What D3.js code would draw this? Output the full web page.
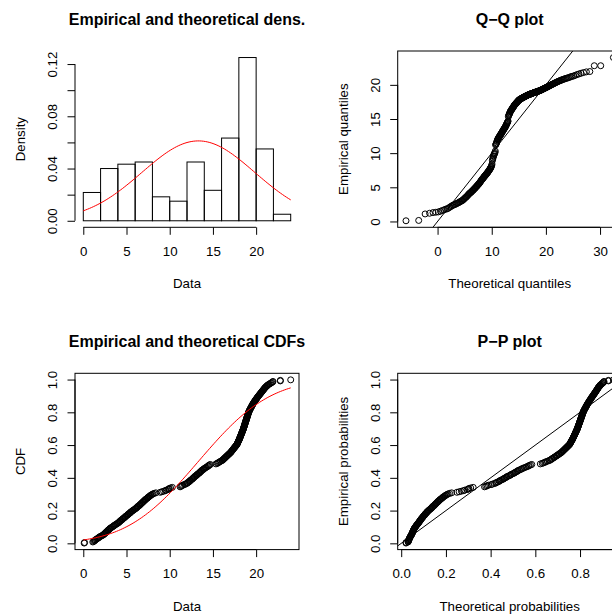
<!DOCTYPE html>
<html>
<head>
<meta charset="utf-8">
<style>
  body { margin: 0; background: #fff; }
  svg { display: block; font-family: "Liberation Sans", Arial, Helvetica, sans-serif; }
</style>
</head>
<body>
<div id="chart"></div>
<script src="https://cdnjs.cloudflare.com/ajax/libs/d3/7.8.5/d3.min.js"></script>
<script>
// observations, grouped by histogram class (a, b]
const obs00to02 = [0.1, 0.15, 1.1, 1.2, 1.3, 1.35, 1.4, 1.5, 1.6, 1.7, 1.8, 1.85, 1.95];
const obs02to04 = [2.1, 2.2, 2.3, 2.4, 2.45, 2.5, 2.6, 2.65, 2.7, 2.8, 2.85, 2.9, 3.0, 3.05, 3.1, 3.2,
  3.3, 3.4, 3.5, 3.55, 3.65, 3.75, 3.85, 3.95];
const obs04to06 = [4.05, 4.1, 4.2, 4.25, 4.3, 4.4, 4.5, 4.55, 4.6, 4.7, 4.8, 4.85, 4.9, 5.0, 5.1, 5.15,
  5.2, 5.3, 5.4, 5.45, 5.5, 5.6, 5.7, 5.75, 5.85, 5.95];
const obs06to08 = [6.05, 6.1, 6.2, 6.25, 6.3, 6.4, 6.5, 6.55, 6.6, 6.7, 6.75, 6.8, 6.9, 6.95, 7.0, 7.1,
  7.15, 7.2, 7.3, 7.4, 7.45, 7.5, 7.6, 7.7, 7.75, 7.85, 7.95];
const obs08to10 = [8.05, 8.2, 8.4, 8.9, 9.1, 9.3, 9.5, 9.6, 9.8, 9.9, 9.95];
const obs10to12 = [10.1, 10.3, 11.2, 11.3, 11.4, 11.5, 11.7, 11.8, 11.95];
const obs12to14 = [12.05, 12.1, 12.2, 12.3, 12.35, 12.4, 12.5, 12.6, 12.65, 12.7, 12.8, 12.85, 12.9, 13.0,
  13.1, 13.15, 13.2, 13.3, 13.4, 13.45, 13.5, 13.6, 13.65, 13.7, 13.8, 13.9, 13.95];
const obs14to16 = [14.05, 14.15, 14.25, 14.35, 14.45, 14.5, 14.6, 14.7, 15.35, 15.5, 15.6, 15.7, 15.8, 15.9];
const obs16to18 = [16.05, 16.1, 16.2, 16.25, 16.3, 16.4, 16.45, 16.5, 16.6, 16.65, 16.7, 16.8, 16.85, 16.9,
  17.0, 17.05, 17.1, 17.15, 17.2, 17.25, 17.3, 17.35, 17.4, 17.45, 17.5, 17.55, 17.6, 17.65, 17.7, 17.75,
  17.8, 17.82, 17.85, 17.88, 17.9, 17.93, 17.96, 17.99];
const obs18to20 = [18.03, 18.05, 18.08, 18.1, 18.12, 18.15, 18.18, 18.2, 18.22, 18.25,
  18.28, 18.3, 18.32, 18.35, 18.37, 18.4, 18.42, 18.45, 18.47, 18.5,
  18.52, 18.54, 18.56, 18.58, 18.6, 18.62, 18.64, 18.66, 18.68, 18.7,
  18.72, 18.74, 18.76, 18.78, 18.8, 18.82, 18.84, 18.86, 18.88, 18.9,
  18.92, 18.94, 18.96, 18.98, 19.0, 19.02, 19.04, 19.06, 19.08, 19.1,
  19.12, 19.15, 19.18, 19.2, 19.23, 19.26, 19.3, 19.33, 19.36, 19.4,
  19.43, 19.46, 19.5, 19.53, 19.57, 19.6, 19.64, 19.68, 19.72, 19.76,
  19.8, 19.84, 19.88, 19.93, 19.97];
const obs20to22 = [20.03, 20.07, 20.1, 20.15, 20.2, 20.25, 20.3, 20.35, 20.4, 20.45,
  20.5, 20.55, 20.6, 20.65, 20.7, 20.75, 20.8, 20.85, 20.9, 20.95,
  21.0, 21.05, 21.1, 21.2, 21.25, 21.3, 21.4, 21.5, 21.6, 21.7, 21.8, 21.9, 21.95];
const obs22to24 = [22.8, 22.8, 24.0];

const breaks = [0, 2, 4, 6, 8, 10, 12, 14, 16, 18, 20, 22, 24];

// tick marks and labels
const dataTicks = [0, 5, 10, 15, 20];
const densTicks = [0, 0.02, 0.04, 0.06, 0.08, 0.10, 0.12];
const densTickLabels = ["0.00", "", "0.04", "", "0.08", "", "0.12"];
const qqXTicks = [0, 10, 20, 30];
const qqYTicks = [0, 5, 10, 15, 20];
const probTicks = [0, 0.2, 0.4, 0.6, 0.8, 1.0];
const probTickLabels = ["0.0", "0.2", "0.4", "0.6", "0.8", "1.0"];
// last label of the P-P x axis falls outside the cropped picture
const ppXTickLabels = ["0.0", "0.2", "0.4", "0.6", "0.8", ""];

const data = [].concat(obs00to02, obs02to04, obs04to06, obs06to08, obs08to10, obs10to12,
  obs12to14, obs14to16, obs16to18, obs18to20, obs20to22, obs22to24);

// ---- normal helpers ----
function qnorm(p) {
  const a = [-3.969683028665376e+01, 2.209460984245205e+02, -2.759285104469687e+02, 1.383577518672690e+02, -3.066479806614716e+01, 2.506628277459239e+00];
  const b = [-5.447609879822406e+01, 1.615858368580409e+02, -1.556989798598866e+02, 6.680131188771972e+01, -1.328068155288572e+01];
  const c = [-7.784894002430293e-03, -3.223964580411365e-01, -2.400758277161838e+00, -2.549732539343734e+00, 4.374664141464968e+00, 2.938163982698783e+00];
  const d = [7.784695709041462e-03, 3.224671290700398e-01, 2.445134137142996e+00, 3.754408661907416e+00];
  const pl = 0.02425;
  let q, r;
  if (p < pl) {
    q = Math.sqrt(-2 * Math.log(p));
    return (((((c[0]*q+c[1])*q+c[2])*q+c[3])*q+c[4])*q+c[5]) / ((((d[0]*q+d[1])*q+d[2])*q+d[3])*q+1);
  }
  if (p > 1 - pl) {
    q = Math.sqrt(-2 * Math.log(1 - p));
    return -(((((c[0]*q+c[1])*q+c[2])*q+c[3])*q+c[4])*q+c[5]) / ((((d[0]*q+d[1])*q+d[2])*q+d[3])*q+1);
  }
  q = p - 0.5; r = q * q;
  return (((((a[0]*r+a[1])*r+a[2])*r+a[3])*r+a[4])*r+a[5])*q / (((((b[0]*r+b[1])*r+b[2])*r+b[3])*r+b[4])*r+1);
}
function erf(x) {
  const s = x < 0 ? -1 : 1; x = Math.abs(x);
  const t = 1 / (1 + 0.3275911 * x);
  const y = 1 - (((((1.061405429*t - 1.453152027)*t) + 1.421413741)*t - 0.284496736)*t + 0.254829592)*t*Math.exp(-x*x);
  return s * y;
}
const pnorm = (x, m, s) => 0.5 * (1 + erf((x - m) / (s * Math.SQRT2)));
const dnorm = (x, m, s) => Math.exp(-0.5 * ((x - m) / s) ** 2) / (s * Math.sqrt(2 * Math.PI));

// ---- fit (MLE) ----
const n = data.length;
const s = data.slice().sort(d3.ascending);
const mu = d3.mean(s);
const sigma = Math.sqrt(d3.sum(s, v => (v - mu) ** 2) / n);
const obsp = s.map((v, i) => (i + 0.5) / n);          // ppoints
const theoq = obsp.map(p => mu + sigma * qnorm(p));
const theop = s.map(v => pnorm(v, mu, sigma));

// histogram, right-closed classes like R
const bins = breaks.slice(1).map((b1, i) => {
  const b0 = breaks[i];
  const cnt = s.filter(v => (v > b0 || (i === 0 && v >= b0)) && v <= b1).length;
  return {x0: b0, x1: b1, density: cnt / (n * (b1 - b0))};
});
const xhistmin = breaks[0], xhistmax = breaks[breaks.length - 1];
const sfin = d3.range(101).map(i => xhistmin + i * (xhistmax - xhistmin) / 100);

// ---- layout ----
const W = 612, H = 615;
const figW = 322.7, figH = 322.3;
const plotW = 224, plotH = 176.3;
const fs = 13.3;

const svg = d3.select('#chart').append('svg').attr('width', W).attr('height', H);

function rRange(ext) { const d = (ext[1] - ext[0]) * 0.04; return [ext[0] - d, ext[1] + d]; }

function makePanel(col, row, id) {
  const x0 = col * figW + 75, y0 = row * figH + 51;
  const p = {x0, y0, x1: x0 + plotW, y1: y0 + plotH, g: svg.append('g')};
  svg.append('clipPath').attr('id', id).append('rect')
    .attr('x', x0).attr('y', y0).attr('width', plotW).attr('height', plotH);
  p.clip = `url(#${id})`;
  return p;
}

function axes(p, sx, sy, xt, xl, yt, yl) {
  const bx = p.g.append('g').attr('transform', `translate(0,${p.y1})`)
    .call(d3.axisBottom(sx).tickValues(xt).tickFormat((d, i) => xl[i]).tickSize(7.5).tickSizeOuter(0));
  bx.select('.domain').remove();
  bx.append('line').attr('x1', sx(xt[0])).attr('x2', sx(xt[xt.length - 1])).attr('stroke', '#000');
  bx.selectAll('text').attr('y', 28.7).attr('dy', null);

  const by = p.g.append('g').attr('transform', `translate(${p.x0},0)`)
    .call(d3.axisLeft(sy).tickValues(yt).tickFormat((d, i) => yl[i]).tickSize(7.5).tickSizeOuter(0));
  by.select('.domain').remove();
  by.append('line').attr('y1', sy(yt[0])).attr('y2', sy(yt[yt.length - 1])).attr('stroke', '#000');
  by.selectAll('text').attr('x', null).attr('dy', null)
    .attr('text-anchor', 'middle').attr('transform', 'translate(-17.7,0) rotate(-90)');

  [bx, by].forEach(a => {
    a.attr('font-size', fs).attr('font-family', null);
    a.selectAll('text').attr('fill', '#000');
    a.selectAll('line').attr('stroke', '#000');
  });
}

function labels(p, title, xlab, ylab) {
  const cx = (p.x0 + p.x1) / 2, cy = (p.y0 + p.y1) / 2;
  p.g.append('text').attr('x', cx).attr('y', p.y0 - 26).attr('text-anchor', 'middle')
    .attr('font-size', 16).attr('font-weight', 'bold').text(title);
  p.g.append('text').attr('x', cx).attr('y', p.y1 + 61).attr('text-anchor', 'middle')
    .attr('font-size', fs).text(xlab);
  p.g.append('text').attr('transform', `translate(${p.x0 - 50},${cy}) rotate(-90)`)
    .attr('text-anchor', 'middle').attr('font-size', fs).text(ylab);
}

function box(p) {
  p.g.append('rect').attr('x', p.x0).attr('y', p.y0).attr('width', plotW).attr('height', plotH)
    .attr('fill', 'none').attr('stroke', '#000');
}

function points(p, xs, ys, sx, sy) {
  p.g.append('g').selectAll('circle').data(xs).join('circle')
    .attr('cx', d => sx(d)).attr('cy', (d, i) => sy(ys[i])).attr('r', 3)
    .attr('fill', 'none').attr('stroke', '#000').attr('stroke-width', 1);
}

// ---- 1. histogram + density ----
{
  const p = makePanel(0, 0, 'c1');
  const theoden = sfin.map(v => dnorm(v, mu, sigma));
  const ymax = Math.max(d3.max(bins, b => b.density), d3.max(theoden));
  const sx = d3.scaleLinear().domain(rRange([xhistmin, xhistmax])).range([p.x0, p.x1]);
  const sy = d3.scaleLinear().domain(rRange([0, ymax])).range([p.y1, p.y0]);
  p.g.append('g').selectAll('rect').data(bins).join('rect')
    .attr('x', d => sx(d.x0)).attr('width', d => sx(d.x1) - sx(d.x0))
    .attr('y', d => sy(d.density)).attr('height', d => sy(0) - sy(d.density))
    .attr('fill', 'none').attr('stroke', '#000');
  p.g.append('path').datum(sfin).attr('clip-path', p.clip)
    .attr('d', d3.line().x(v => sx(v)).y(v => sy(dnorm(v, mu, sigma))))
    .attr('fill', 'none').attr('stroke', 'red');
  axes(p, sx, sy, dataTicks, dataTicks.map(String), densTicks, densTickLabels);
  labels(p, 'Empirical and theoretical dens.', 'Data', 'Density');
}

// ---- 2. Q-Q plot ----
{
  const p = makePanel(1, 0, 'c2');
  const sx = d3.scaleLinear().domain(rRange(d3.extent(theoq))).range([p.x0, p.x1]);
  const sy = d3.scaleLinear().domain(rRange(d3.extent(s))).range([p.y1, p.y0]);
  points(p, theoq, s, sx, sy);
  const lo = sx.domain()[0] - 50, hi = sx.domain()[1] + 50;
  p.g.append('line').attr('clip-path', p.clip)
    .attr('x1', sx(lo)).attr('y1', sy(lo)).attr('x2', sx(hi)).attr('y2', sy(hi)).attr('stroke', '#000');
  box(p);
  axes(p, sx, sy, qqXTicks, qqXTicks.map(String), qqYTicks, qqYTicks.map(String));
  labels(p, 'Q\u2212Q plot', 'Theoretical quantiles', 'Empirical quantiles');
}

// ---- 3. CDFs ----
{
  const p = makePanel(0, 1, 'c3');
  const sx = d3.scaleLinear().domain(rRange([xhistmin, xhistmax])).range([p.x0, p.x1]);
  const sy = d3.scaleLinear().domain(rRange(d3.extent(obsp))).range([p.y1, p.y0]);
  points(p, s, obsp, sx, sy);
  p.g.append('path').datum(sfin).attr('clip-path', p.clip)
    .attr('d', d3.line().x(v => sx(v)).y(v => sy(pnorm(v, mu, sigma))))
    .attr('fill', 'none').attr('stroke', 'red');
  box(p);
  axes(p, sx, sy, dataTicks, dataTicks.map(String), probTicks, probTickLabels);
  labels(p, 'Empirical and theoretical CDFs', 'Data', 'CDF');
}

// ---- 4. P-P plot ----
{
  const p = makePanel(1, 1, 'c4');
  const sx = d3.scaleLinear().domain(rRange(d3.extent(theop))).range([p.x0, p.x1]);
  const sy = d3.scaleLinear().domain(rRange(d3.extent(obsp))).range([p.y1, p.y0]);
  points(p, theop, obsp, sx, sy);
  p.g.append('line').attr('clip-path', p.clip)
    .attr('x1', sx(-1)).attr('y1', sy(-1)).attr('x2', sx(2)).attr('y2', sy(2)).attr('stroke', '#000');
  box(p);
  axes(p, sx, sy, probTicks, ppXTickLabels, probTicks, probTickLabels);
  labels(p, 'P\u2212P plot', 'Theoretical probabilities', 'Empirical probabilities');
}
</script>
</body>
</html>
